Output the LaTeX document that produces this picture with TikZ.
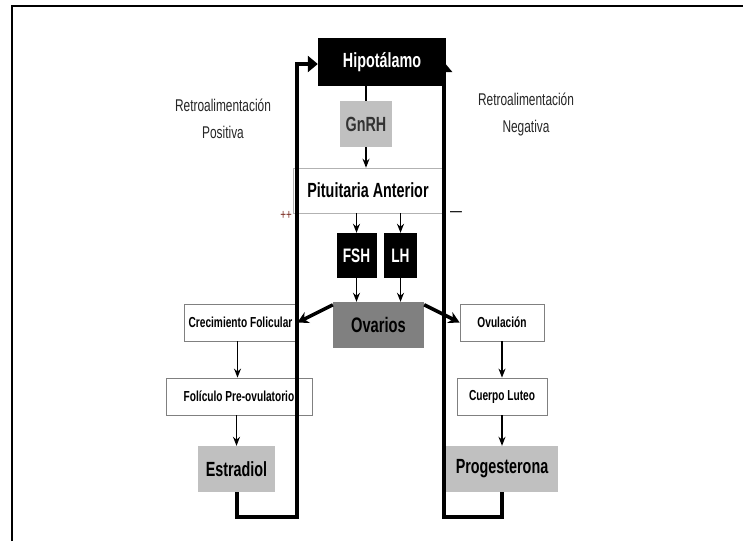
\documentclass[tikz,border=0pt]{standalone}
\usepackage{fontspec}
\setmainfont{Liberation Sans}[FakeStretch=0.7]
\usepackage{tikz}
\usetikzlibrary{arrows.meta, positioning, calc}
\definecolor{boxgray}{HTML}{C0C0C0}
\definecolor{ovgray}{HTML}{808080}
\definecolor{plusred}{HTML}{7A2A20}
\tikzset{
	bigbox/.style={minimum height=46pt, inner sep=0pt, font=\bfseries\fontsize{20.5}{23}\selectfont},
	smallbox/.style={draw=ovgray, fill=white, line width=0.8pt, minimum height=37pt, inner sep=0pt, font=\bfseries\fontsize{14.5}{17}\selectfont},
	chainarr/.style={-{Stealth[length=9pt, width=7pt]}, line width=1.3pt},
	fbline/.style={line width=4pt, line join=miter},
}

\begin{document}
\begin{tikzpicture}[
				x=1pt, y=-1pt,
				hormone/.style={bigbox, fill=black, text=white},
				thickarr/.style={-{Stealth[length=11pt, width=12pt]}, line width=3.5pt},
				fbtip/.style={-{Triangle[length=10pt, width=16pt]}},
				lbl/.style={font=\fontsize{17}{27}\selectfont, align=center, text=black!85}
				]
				\useasboundingbox (0,0) rectangle (743,541);
				\draw[line width=1.5pt] (12,541) -- (12,6) -- (743,6);
				% axis
				\node[hormone, minimum width=128pt, minimum height=48pt] (hipo) at (382,62) {Hipotálamo};
				\node[bigbox, fill=boxgray, text=black!80, minimum width=52pt] (gnrh) at (366,124) {GnRH};
				\node[bigbox, draw=gray!60, line width=0.6pt, minimum width=150pt, minimum height=45pt] (pit) at (368,190.5) {Pituitaria Anterior};
				\node[hormone, minimum width=40pt, minimum height=45pt, font=\bfseries\fontsize{19.5}{22}\selectfont] (fsh) at (356.5,255.5) {FSH};
				\node[hormone, minimum width=33pt, minimum height=45pt, font=\bfseries\fontsize{19.5}{22}\selectfont] (lh) at (400.5,255.5) {LH};
				\node[bigbox, fill=ovgray, minimum width=91pt, font=\bfseries\fontsize{21}{24}\selectfont] (ova) at (378.5,325) {Ovarios};
				% left branch
				\node[smallbox, minimum width=113pt] (crec) at (240.5,322.5) {Crecimiento Folicular};
				\node[smallbox, minimum width=146pt] (foli) at (239,396.5) {Folículo Pre-ovulatorio};
				\node[bigbox, fill=boxgray, minimum width=77pt] (estr) at (236.5,469) {Estradiol};
				% right branch
				\node[smallbox, minimum width=84pt] (ovul) at (502,322.5) {Ovulación};
				\node[smallbox, minimum width=90pt] (cuer) at (502,396.5) {Cuerpo Luteo};
				\node[bigbox, fill=boxgray, minimum width=112pt] (prog) at (502,469) {Progesterona};
				% labels
				\node[lbl] (pos) at (223,119) {Retroalimentación\\Positiva};
				\node[lbl] (neg) at (526,115) {Retroalimentación\\Negativa};
				\node[font=\fontsize{14}{16}\selectfont, text=plusred] (plus) at (286,215) {++};
				\node[font=\fontsize{17}{19}\selectfont] (minus) at (456,214) {—};
				% arrows
				\draw[line width=1.3pt] (hipo.south -| gnrh.north) -- (gnrh.north);
				\draw[chainarr] (gnrh.south) -- (gnrh.south |- pit.north);
				\draw[chainarr] (pit.south -| fsh.north) -- (fsh.north);
				\draw[chainarr] (pit.south -| lh.north) -- (lh.north);
				\draw[chainarr] (fsh.south) -- (fsh.south |- ova.north);
				\draw[chainarr] (lh.south) -- (lh.south |- ova.north);
				\draw[thickarr] ([yshift=-3pt]ova.north west) -- (crec.east);
				\draw[thickarr] ([yshift=-3pt]ova.north east) -- (ovul.west);
				\draw[chainarr] ([xshift=-3pt]crec.south) -- ([xshift=-3pt]crec.south |- foli.north);
				\draw[chainarr] (estr.north |- foli.south) -- (estr.north);
				\draw[chainarr] (ovul.south) -- (cuer.north);
				\draw[chainarr] (cuer.south) -- (prog.north);
				% feedback loops
				\coordinate (lbot) at (297,517);
				\coordinate (rbot) at (444,517);
				\draw[fbline, fbtip] (estr.south) |- (lbot) -- (lbot |- 0,64) -- (hipo.west |- 0,64);
				\draw[fbline, fbtip] (prog.south) |- (rbot) -- (rbot |- hipo.east);
			\end{tikzpicture}
\end{document}
